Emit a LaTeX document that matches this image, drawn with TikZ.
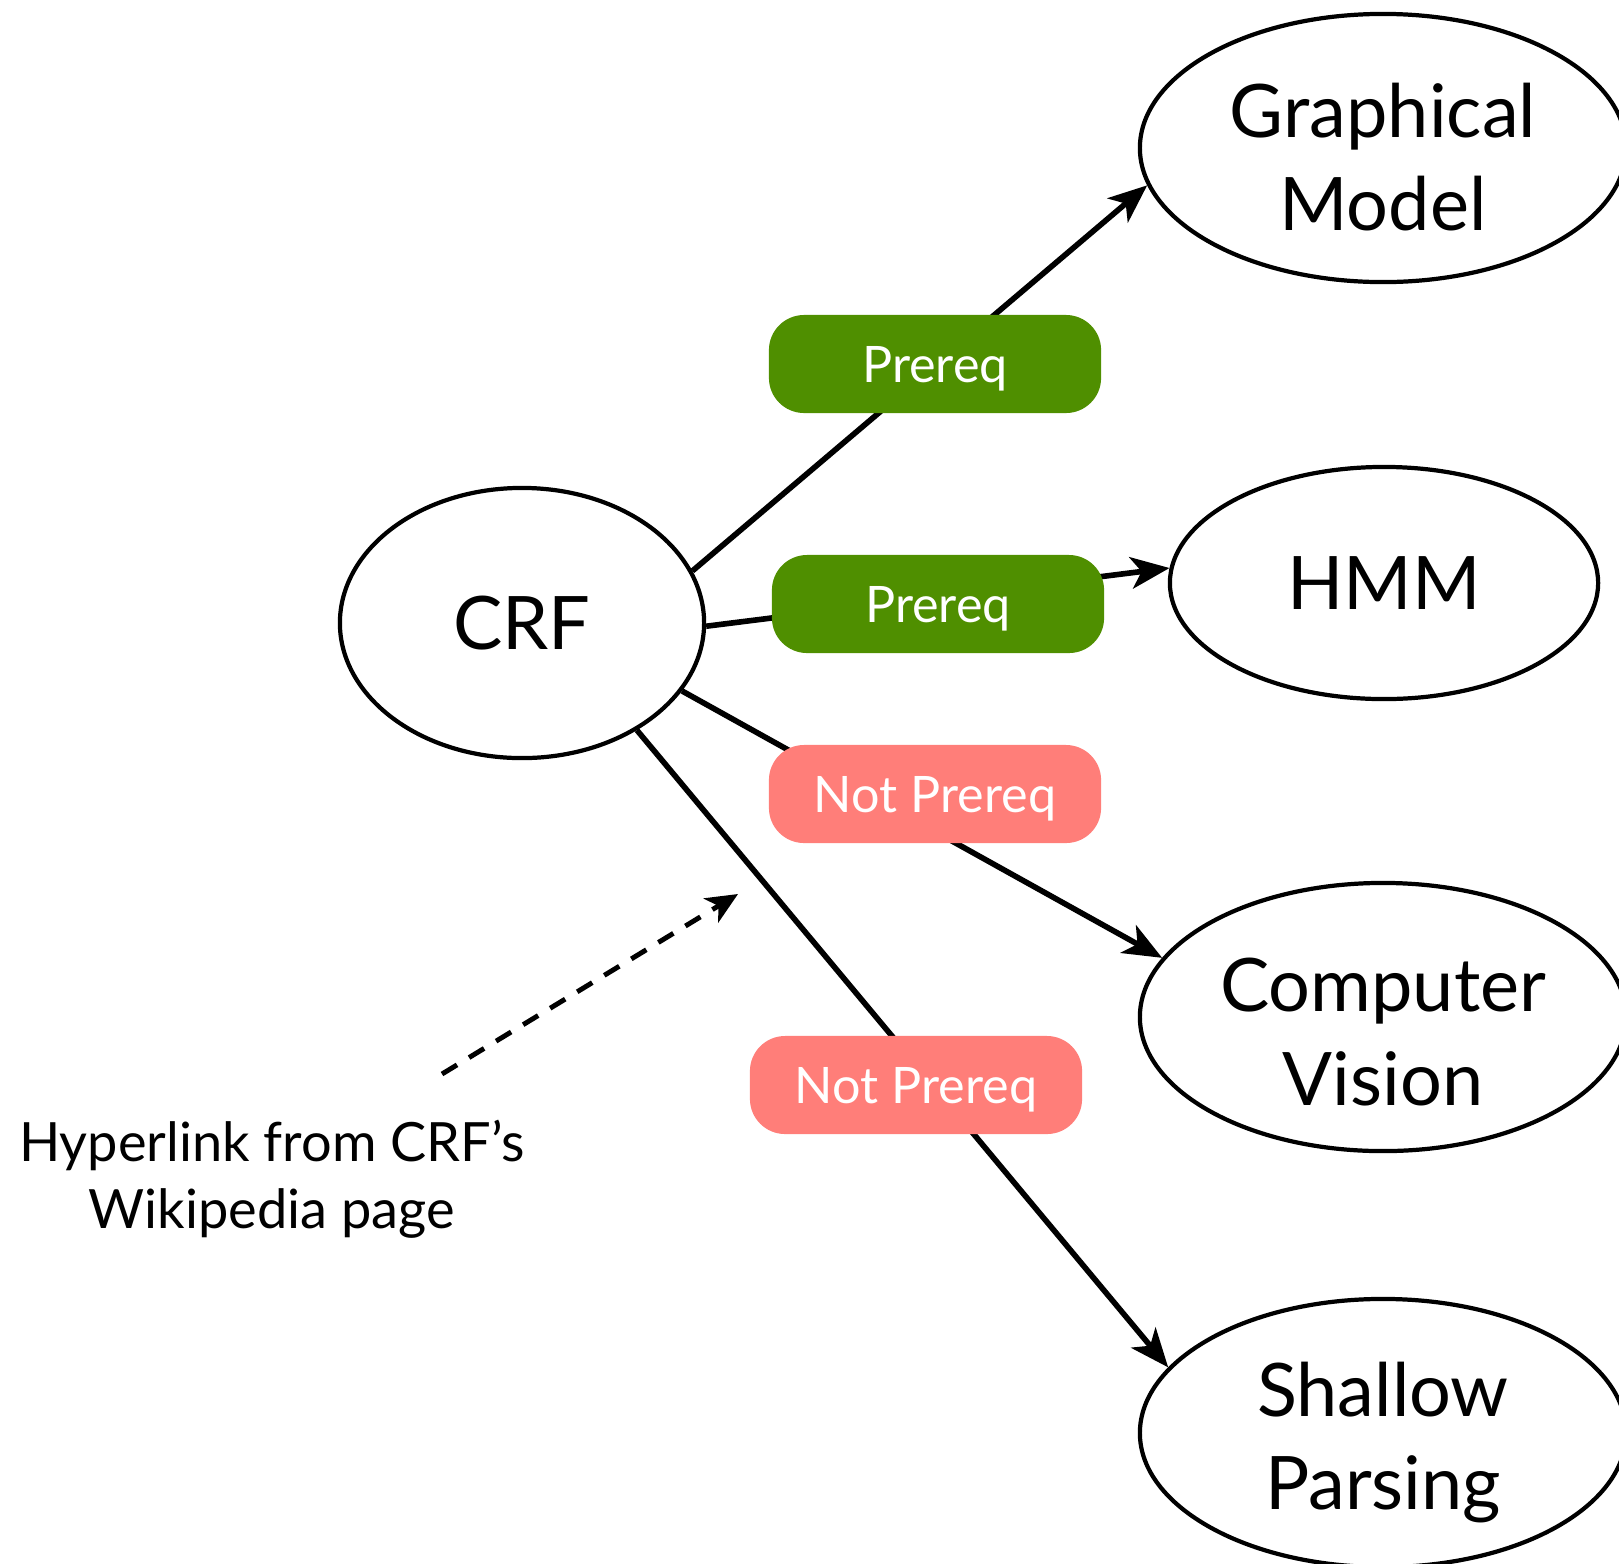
\documentclass[tikz,border=0pt]{standalone}
\usepackage{fontspec}
\setmainfont{Lato}
\usetikzlibrary{arrows.meta,shapes.geometric}
\definecolor{prgreen}{HTML}{4F8F00}
\definecolor{nprred}{HTML}{FF7E79}
\newcommand{\twolines}[3]{\raisebox{#1}[\height][\depth]{\begin{tabular}{@{}c@{}}#2\\#3\end{tabular}}}
\begin{document}
\begin{tikzpicture}[x=0.01cm,y=-0.01cm,
  topic/.style={draw=black,ellipse,line width=1.2pt,inner sep=0pt,align=center,
    minimum width=4.86cm,minimum height=2.68cm,font=\fontsize{21}{26.5}\selectfont},
  tag/.style={rounded corners=10pt,inner sep=0pt,minimum width=3.32cm,minimum height=0.98cm,
    text depth=0pt,text=white,font=\fontsize{14.3}{17}\selectfont},
  pre/.style={tag,fill=prgreen},
  notpre/.style={tag,fill=nprred},
  link/.style={line width=1.6pt,-{Stealth[length=11pt,width=9pt,inset=3pt]}},
  note/.style={align=center,font=\fontsize{15.4}{19.2}\selectfont}]
\useasboundingbox (0,0) rectangle (1619,1563);
\node[topic,minimum width=3.64cm,minimum height=2.70cm] (crf) at (522,623) {CRF};
\node[topic] (gm) at (1383,148) {\twolines{-4.9pt}{Graphical}{Model}};
\node[topic,minimum width=4.28cm,minimum height=2.32cm] (hmm) at (1384,583) {HMM};
\node[topic] (cv) at (1383,1017) {\twolines{-6.5pt}{Computer}{Vision}};
\node[topic] (sp) at (1383,1433) {\twolines{-3.2pt}{Shallow}{Parsing}};
\draw[link] (crf.17) -- (gm.189);
\draw[link] (crf.-1) -- (hmm.176);
\draw[link] (crf.-23) -- (cv.165);
\draw[link] (crf.-43) -- (sp.163);
\node[pre] (l1) at (935,364) {Prereq};
\node[pre] (l2) at (938,604) {Prereq};
\node[notpre] (l3) at (935,794) {Not Prereq};
\node[notpre] (l4) at (916,1085) {Not Prereq};
\node[note] (hyper) at (272,1179) {Hyperlink from CRF’s\\Wikipedia page};
\coordinate (dstart) at (442,1074);
\coordinate (dend) at (738,894);
\draw[line width=1.4pt,dash pattern=on 5pt off 4pt,-{Stealth[length=9pt,width=8pt,inset=2.5pt]}] (dstart) -- (dend);
\end{tikzpicture}
\end{document}
